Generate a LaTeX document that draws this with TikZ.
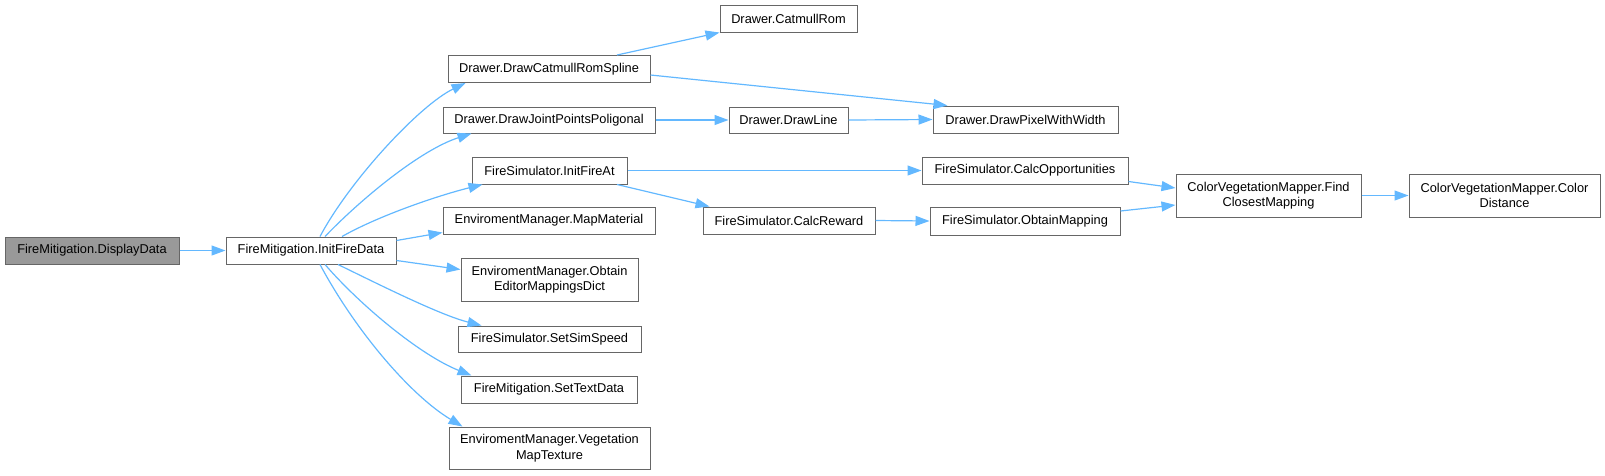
\documentclass[tikz,border=0pt]{standalone}
\usepackage{fontspec}
\setmainfont{Liberation Sans}
\usetikzlibrary{arrows.meta}
\definecolor{edgeblue}{HTML}{63B8FF}
\definecolor{nodeborder}{HTML}{666666}
\definecolor{rootfill}{HTML}{999999}
\begin{document}
\begin{tikzpicture}[x=1pt,y=-1pt,
  fn/.style={draw=nodeborder, line width=1pt, fill=white, inner sep=0pt, align=center,
    font=\fontsize{12.8}{15.5}\selectfont, text=black},
  root/.style={fn, fill=rootfill},
  call/.style={draw=edgeblue, line width=1.2pt, -{Triangle[length=14pt,width=10pt,fill=edgeblue]}}
]
\useasboundingbox (0,0) rectangle (1605,475);
% nodes
\node[root, minimum width=174pt, minimum height=27pt] (display) at (92,250.5) {FireMitigation.DisplayData};
\node[fn, minimum width=170pt, minimum height=27pt] (init) at (311,250.5) {FireMitigation.InitFireData};
\node[fn, minimum width=202pt, minimum height=27pt] (spline) at (549,69) {Drawer.DrawCatmullRomSpline};
\node[fn, minimum width=212pt, minimum height=26pt] (joint) at (549,120) {Drawer.DrawJointPointsPoligonal};
\node[fn, minimum width=155pt, minimum height=27pt] (initat) at (549.5,170.5) {FireSimulator.InitFireAt};
\node[fn, minimum width=212pt, minimum height=27pt] (mapmat) at (549,220.5) {EnviromentManager.MapMaterial};
\node[fn, minimum width=177pt, minimum height=43pt] (obtaindict) at (549.5,279.5) {EnviromentManager.Obtain\\EditorMappingsDict};
\node[fn, minimum width=183pt, minimum height=26pt] (simspeed) at (549.5,339) {FireSimulator.SetSimSpeed};
\node[fn, minimum width=176pt, minimum height=27pt] (settext) at (549,389.5) {FireMitigation.SetTextData};
\node[fn, minimum width=201pt, minimum height=42pt] (vegmap) at (549.5,448) {EnviromentManager.Vegetation\\MapTexture};
\node[fn, minimum width=137pt, minimum height=27pt] (catmull) at (788.5,18.5) {Drawer.CatmullRom};
\node[fn, minimum width=119pt, minimum height=26pt] (drawline) at (788.5,120) {Drawer.DrawLine};
\node[fn, minimum width=172pt, minimum height=27pt] (calcreward) at (789,220.5) {FireSimulator.CalcReward};
\node[fn, minimum width=185pt, minimum height=27pt] (pixel) at (1025.5,119.5) {Drawer.DrawPixelWithWidth};
\node[fn, minimum width=206pt, minimum height=27pt] (calcopp) at (1025,170.5) {FireSimulator.CalcOpportunities};
\node[fn, minimum width=190pt, minimum height=28pt] (obtainmap) at (1025,221) {FireSimulator.ObtainMapping};
\node[fn, minimum width=185pt, minimum height=43pt] (find) at (1268.5,195.5) {ColorVegetationMapper.Find\\ClosestMapping};
\node[fn, minimum width=191pt, minimum height=43pt] (colordist) at (1504.5,195.5) {ColorVegetationMapper.Color\\Distance};
% edges
\draw[call] (display.east) -- (init.west);
\draw[call] ([xshift=9pt]init.north) .. controls (350,180) and (420,105) .. ([xshift=18pt]spline.south west);
\draw[call] ([xshift=14pt]init.north) .. controls (360,200) and (420,150) .. ([xshift=29pt]joint.south west);
\draw[call] ([xshift=31pt]init.north) .. controls (380,215) and (440,195) .. ([xshift=11pt]initat.south west);
\draw[call] ([yshift=10pt]init.east) -- ([yshift=2pt]mapmat.south west);
\draw[call] ([yshift=-10pt]init.east) -- ([yshift=10pt]obtaindict.west);
\draw[call] ([xshift=27pt]init.south) .. controls (380,285) and (440,315) .. ([xshift=24pt]simspeed.north west);
\draw[call] ([xshift=14pt]init.south) .. controls (360,305) and (420,355) .. ([xshift=11pt]settext.north west);
\draw[call] ([xshift=9pt]init.south) .. controls (355,330) and (410,395) .. ([xshift=14pt]vegmap.north west);
\draw[call] ([xshift=68pt]spline.north) -- (catmull.south west);
\draw[call] ([yshift=-6pt]spline.east) -- ([xshift=15pt]pixel.north west);
\draw[call] (joint.east) -- (drawline.west);
\draw[call] (drawline.east) -- (pixel.west);
\draw[call] (initat.east) -- (calcopp.west);
\draw[call] ([xshift=67.5pt]initat.south) -- ([xshift=7pt]calcreward.north west);
\draw[call] (calcreward.east) -- (obtainmap.west);
\draw[call] ([yshift=-11pt]calcopp.east) -- ([yshift=7.5pt]find.west);
\draw[call] ([yshift=10pt]obtainmap.east) -- ([yshift=-9.5pt]find.west);
\draw[call] (find.east) -- (colordist.west);
\end{tikzpicture}
\end{document}
